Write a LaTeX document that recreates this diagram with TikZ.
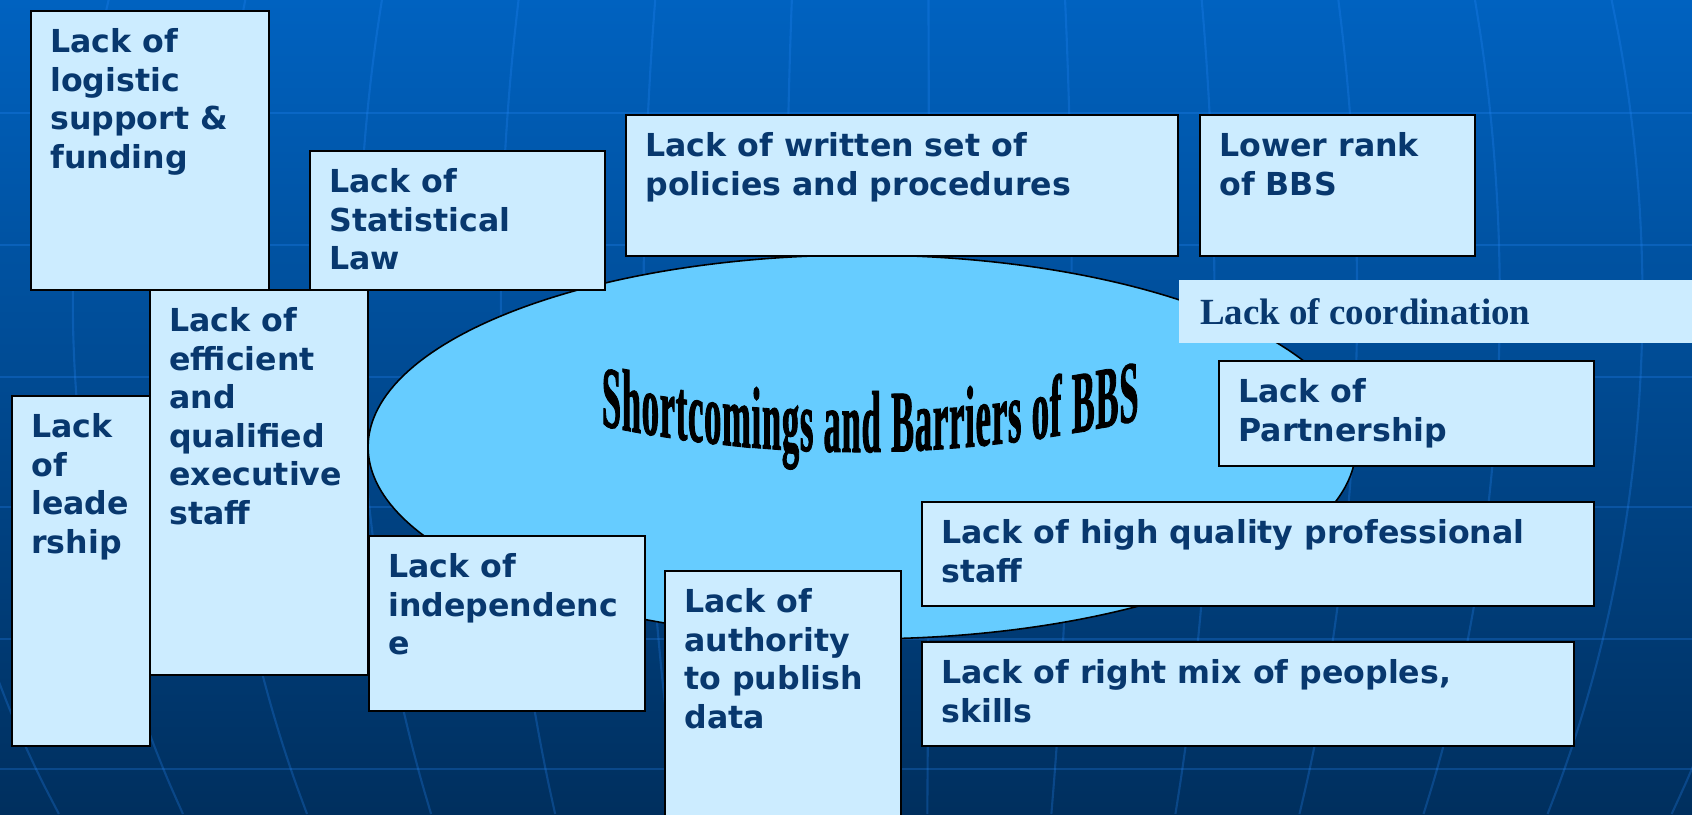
\documentclass[tikz,border=0pt]{standalone}
\usepackage{fontspec}
\usetikzlibrary{shapes.geometric}

\newfontfamily\boxfont{DejaVu Sans}
\newfontfamily\coordfont{Liberation Serif}
\newfontfamily\titlefam[FakeStretch=0.39,FakeBold=1]{Liberation Serif}
\newcommand\titlestyle{\titlefam\bfseries\fontsize{50}{50}\selectfont}
\newdimen\titlex

\definecolor{bgtop}{RGB}{0,98,192}
\definecolor{bgbottom}{RGB}{0,47,94}
\definecolor{gridblue}{RGB}{40,140,255}
\definecolor{boxfill}{RGB}{204,236,255}
\definecolor{corefill}{RGB}{102,204,255}
\definecolor{navy}{RGB}{8,56,110}

\begin{document}
\begin{tikzpicture}[x=0.02cm, y=-0.02cm,
    gridline/.style={draw=gridblue, opacity=0.25, line width=1.2pt},
    core/.style={ellipse, draw=black, line width=0.9pt, fill=corefill,
        minimum width=19.76cm, minimum height=7.68cm, inner sep=0pt},
    titlechar/.style={anchor=base west, inner sep=0pt, font=\titlestyle},
    barrier/.style={draw=black, line width=1pt, fill=boxfill,
        anchor=north west, inner sep=0pt},
    lacktext/.style={anchor=north west, inner sep=0pt, align=left, text=navy,
        font=\boxfont\bfseries\fontsize{18}{22}\selectfont}]

    % page and backdrop
    \clip (0,0) rectangle (1692,814);
    \shade[top color=bgtop, bottom color=bgbottom] (0,0) rectangle (1692,814);

    % faint globe grid
    \foreach \gy in {113,245,377,507,639,769}
        \draw[gridline] (0,\gy) -- (1692,\gy);
    \foreach \col in {-8,...,7} {
        \pgfmathsetmacro{\dx}{13+142.7*\col}
        \draw[gridline, domain=0:814, samples=25, smooth, variable=\t]
            plot ({916+\dx*sqrt(1-((\t-300)/1040)^2)}, \t);
    }

    % centre ellipse
    \node[core] (core) at (862,447) {};

    % arched title: letters chained one after another, stems kept upright,
    % baseline following the arch
    \node[titlechar] (title0) at (599,423) {};
    \foreach \ch [count=\i, remember=\i as \j (initially 0)] in
        {S,h,o,r,t,c,o,m,i,n,g,s,{\hbox{\ }},a,n,d,{\hbox{\ }},B,a,r,r,i,e,r,s,{\hbox{\ }},o,f,{\hbox{\ }},B,B,S} {
        \pgfextractx{\titlex}{\pgfpointanchor{title\j}{base east}}
        \pgfmathsetmacro{\bx}{\titlex/0.569055}
        \pgfmathsetmacro{\by}{452-29*((\bx+9-866)/268)^2}
        \pgfmathsetmacro{\slope}{0.2164*(\bx+9-866)/268}
        \node[titlechar, yslant=\slope] (title\i) at (\bx,\by) {\ch};
    }

    % left column
    \node[barrier, minimum width=4.76cm, minimum height=5.58cm] (logistic) at (30,10) {};
    \node[lacktext] (logistic-t) at ([shift={(20,18)}]logistic.north west)
        {Lack of\\logistic\\support \&\\funding};

    \node[barrier, minimum width=5.90cm, minimum height=2.78cm] (statlaw) at (309,150) {};
    \node[lacktext] (statlaw-t) at ([shift={(20,18)}]statlaw.north west)
        {Lack of\\Statistical\\Law};

    \node[barrier, minimum width=4.36cm, minimum height=7.70cm] (efficient) at (149,289) {};
    \node[lacktext] (efficient-t) at ([shift={(20,18)}]efficient.north west)
        {Lack of\\efficient\\and\\qualified\\executive\\staff};

    \node[barrier, minimum width=2.76cm, minimum height=7.00cm] (leadership) at (11,395) {};
    \node[lacktext] (leadership-t) at ([shift={(20,18)}]leadership.north west)
        {Lack\\of\\leade\\rship};

    % bottom row
    \node[barrier, minimum width=5.52cm, minimum height=3.50cm] (independence) at (368,535) {};
    \node[lacktext] (independence-t) at ([shift={(20,18)}]independence.north west)
        {Lack of\\independenc\\e};

    \node[barrier, minimum width=4.72cm, minimum height=5.20cm] (authority) at (664,570) {};
    \node[lacktext] (authority-t) at ([shift={(20,18)}]authority.north west)
        {Lack of\\authority\\to publish\\data};

    % top row
    \node[barrier, minimum width=11.04cm, minimum height=2.82cm] (policies) at (625,114) {};
    \node[lacktext] (policies-t) at ([shift={(20,18)}]policies.north west)
        {Lack of written set of\\policies and procedures};

    \node[barrier, minimum width=5.50cm, minimum height=2.82cm] (rank) at (1199,114) {};
    \node[lacktext] (rank-t) at ([shift={(20,18)}]rank.north west)
        {Lower rank\\of BBS};

    % right column
    \node[barrier, draw=none, minimum width=10.28cm, minimum height=1.26cm] (coord) at (1178,279) {};
    \node[anchor=base west, inner sep=0pt, text=navy,
        font=\coordfont\bfseries\fontsize{21}{25}\selectfont]
        (coord-t) at ([shift={(22,45)}]coord.north west) {Lack of coordination};

    \node[barrier, minimum width=7.50cm, minimum height=2.10cm] (partner) at (1218,360) {};
    \node[lacktext] (partner-t) at ([shift={(20,18)}]partner.north west)
        {Lack of\\Partnership};

    \node[barrier, minimum width=13.44cm, minimum height=2.08cm] (quality) at (921,501) {};
    \node[lacktext] (quality-t) at ([shift={(20,18)}]quality.north west)
        {Lack of high quality professional\\staff};

    \node[barrier, minimum width=13.04cm, minimum height=2.08cm] (mix) at (921,641) {};
    \node[lacktext] (mix-t) at ([shift={(20,18)}]mix.north west)
        {Lack of right mix of peoples,\\skills};
\end{tikzpicture}
\end{document}
